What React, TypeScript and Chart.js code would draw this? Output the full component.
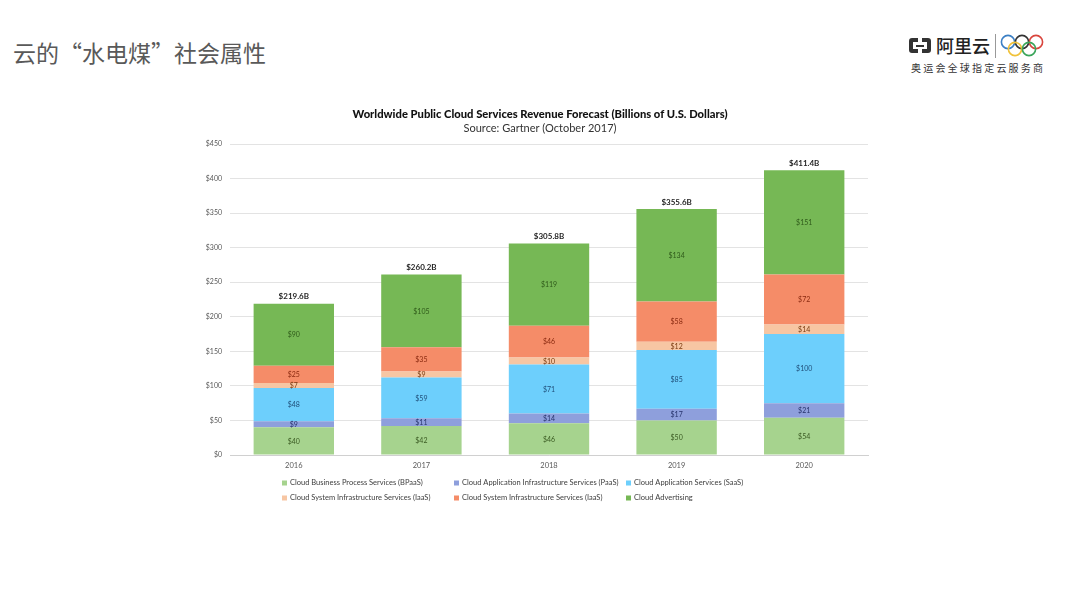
import React, { useEffect, useRef } from "react";
import { Chart, registerables } from "chart.js";

Chart.register(...registerables);

const years = ["2016", "2017", "2018", "2019", "2020"];
const bpaas = [40, 42, 46, 50, 54];
const paas = [9, 11, 14, 17, 21];
const saas = [48, 59, 71, 85, 100];
const iaasLight = [7, 9, 10, 12, 14];
const iaasOrange = [25, 35, 46, 58, 72];
const advertising = [90, 105, 119, 134, 151];
const totals = [219.6, 260.2, 305.8, 355.6, 411.4];

const seriesNames = [
  "Cloud Business Process Services (BPaaS)",
  "Cloud Application Infrastructure Services (PaaS)",
  "Cloud Application Services (SaaS)",
  "Cloud System Infrastructure Services (IaaS)",
  "Cloud System Infrastructure Services (IaaS)",
  "Cloud Advertising",
];
const seriesColors = ["#a6d38e", "#8e9fdc", "#6dcffc", "#f7c6a3", "#f58c68", "#76b855"];
const labelColors = ["#3a5a22", "#26336b", "#1f4e79", "#7a3a10", "#8a2a10", "#2f5a1a"];

const chartTitle = "Worldwide Public Cloud Services Revenue Forecast (Billions of U.S. Dollars)";
const chartSubtitle = "Source: Gartner (October 2017)";

const FONT = "Lato, 'Open Sans', sans-serif";

const overlayPlugin = {
  id: "overlay",
  afterDatasetsDraw(chart: any) {
    const ctx = chart.ctx;
    const area = chart.chartArea;
    ctx.save();
    // segment labels
    chart.data.datasets.forEach((ds: any, di: number) => {
      const meta = chart.getDatasetMeta(di);
      meta.data.forEach((el: any, i: number) => {
        const top = Math.min(el.y, el.base);
        const bot = Math.max(el.y, el.base);
        ctx.fillStyle = labelColors[di];
        ctx.font = `7px ${FONT}`;
        ctx.textAlign = "center";
        ctx.textBaseline = "middle";
        ctx.fillText("$" + ds.data[i], el.x, (top + bot) / 2 + 0.5);
      });
    });
    // totals
    const last = chart.getDatasetMeta(chart.data.datasets.length - 1);
    last.data.forEach((el: any, i: number) => {
      ctx.fillStyle = "#262626";
      ctx.font = `bold 8px ${FONT}`;
      ctx.textAlign = "center";
      ctx.textBaseline = "bottom";
      ctx.fillText("$" + totals[i].toFixed(1) + "B", el.x, el.y - 3);
    });
    // titles
    const cx = (area.left + area.right) / 2 - 9;
    ctx.fillStyle = "#111111";
    ctx.textAlign = "center";
    ctx.textBaseline = "middle";
    ctx.font = `900 11.2px ${FONT}`;
    ctx.fillText(chartTitle, cx, area.top - 30);
    ctx.fillStyle = "#333333";
    ctx.font = `11px ${FONT}`;
    ctx.fillText(chartSubtitle, cx, area.top - 16);
    // legend
    ctx.font = `7.5px ${FONT}`;
    ctx.textAlign = "left";
    chart.data.datasets.forEach((ds: any, di: number) => {
      const col = di % 3;
      const row = Math.floor(di / 3);
      const x = area.left + 52 + col * 172;
      const y = area.bottom + 28 + row * 15;
      ctx.fillStyle = ds.backgroundColor;
      ctx.fillRect(x, y - 2.5, 5, 5);
      ctx.fillStyle = "#404040";
      ctx.fillText(ds.label, x + 8, y);
    });
    ctx.restore();
  },
};

function ChartBox() {
  const ref = useRef<HTMLCanvasElement>(null);
  useEffect(() => {
    if (!ref.current) return;
    const data = [bpaas, paas, saas, iaasLight, iaasOrange, advertising];
    const chart = new Chart(ref.current, {
      type: "bar",
      data: {
        labels: years,
        datasets: data.map((d, i) => ({
          label: seriesNames[i],
          data: d,
          backgroundColor: seriesColors[i],
          borderWidth: 0,
          barPercentage: 0.63,
          categoryPercentage: 1,
        })),
      },
      options: {
        responsive: false,
        animation: false,
        layout: { padding: { top: 44, left: 0, right: 22, bottom: 35 } },
        plugins: { legend: { display: false }, tooltip: { enabled: false }, title: { display: false } },
        scales: {
          x: {
            stacked: true,
            grid: { display: false, drawTicks: false },
            border: { color: "#d0d0d0" },
            ticks: { color: "#595959", font: { size: 7.5, family: FONT }, padding: 6 },
            afterFit: (s: any) => { s.height = 20; },
          },
          y: {
            stacked: true,
            min: 0,
            max: 450,
            grid: { color: "#e3e3e3", drawTicks: false },
            border: { display: false },
            ticks: {
              stepSize: 50,
              color: "#595959",
              font: { size: 7, family: FONT },
              padding: 8,
              callback: (v: any) => "$" + v,
            },
            afterFit: (s: any) => { s.width = 40; },
          },
        },
      },
      plugins: [overlayPlugin],
    } as any);
    return () => chart.destroy();
  }, []);
  return (
    <canvas
      ref={ref}
      width={700}
      height={410}
      style={{ position: "absolute", left: 190, top: 100, width: 700, height: 410 }}
    />
  );
}

function Rings() {
  const rings = [
    { cx: 8, cy: 8, c: "#3b7fc4" },
    { cx: 22, cy: 8, c: "#333333" },
    { cx: 36, cy: 8, c: "#d9453d" },
    { cx: 15, cy: 15, c: "#f0c23a" },
    { cx: 29, cy: 15, c: "#3aa55a" },
  ];
  return (
    <svg width={46} height={24} style={{ position: "absolute", left: 1000, top: 34 }}>
      {rings.map((r, i) => (
        <circle key={i} cx={r.cx} cy={r.cy} r={6.6} fill="none" stroke={r.c} strokeWidth={1.6} />
      ))}
    </svg>
  );
}

export default function App() {
  return (
    <div
      style={{
        position: "absolute",
        left: 0,
        top: 0,
        width: 1080,
        height: 608,
        background: "#ffffff",
        overflow: "hidden",
        fontFamily: "'Noto Sans CJK SC', sans-serif",
      }}
    >
      <div
        style={{
          position: "absolute",
          left: 13,
          top: 36,
          fontSize: 23,
          lineHeight: "32px",
          color: "#595959",
          whiteSpace: "nowrap",
        }}
      >
        云的“水电煤”社会属性
      </div>
      {/* logo */}
      <div
        style={{
          position: "absolute",
          left: 909,
          top: 38,
          width: 22,
          height: 15,
          border: "4px solid #333",
          borderRadius: 3,
          boxSizing: "border-box",
        }}
      >
        <div style={{ position: "absolute", left: 3, top: 2.5, width: 8, height: 2, background: "#333" }} />
        <div style={{ position: "absolute", left: 5, top: -4, width: 4, height: 4, background: "#fff" }} />
        <div style={{ position: "absolute", left: 5, top: 7, width: 4, height: 4, background: "#fff" }} />
      </div>
      <div
        style={{
          position: "absolute",
          left: 936,
          top: 33,
          fontSize: 18,
          lineHeight: "24px",
          color: "#222",
          fontWeight: 500,
          whiteSpace: "nowrap",
        }}
      >
        阿里云
      </div>
      <div style={{ position: "absolute", left: 995, top: 34, width: 1, height: 24, background: "#999" }} />
      <Rings />
      <div
        style={{
          position: "absolute",
          left: 911,
          top: 61,
          fontSize: 10,
          lineHeight: "14px",
          letterSpacing: 2.2,
          color: "#333",
          whiteSpace: "nowrap",
        }}
      >
        奥运会全球指定云服务商
      </div>
      <ChartBox />
    </div>
  );
}
